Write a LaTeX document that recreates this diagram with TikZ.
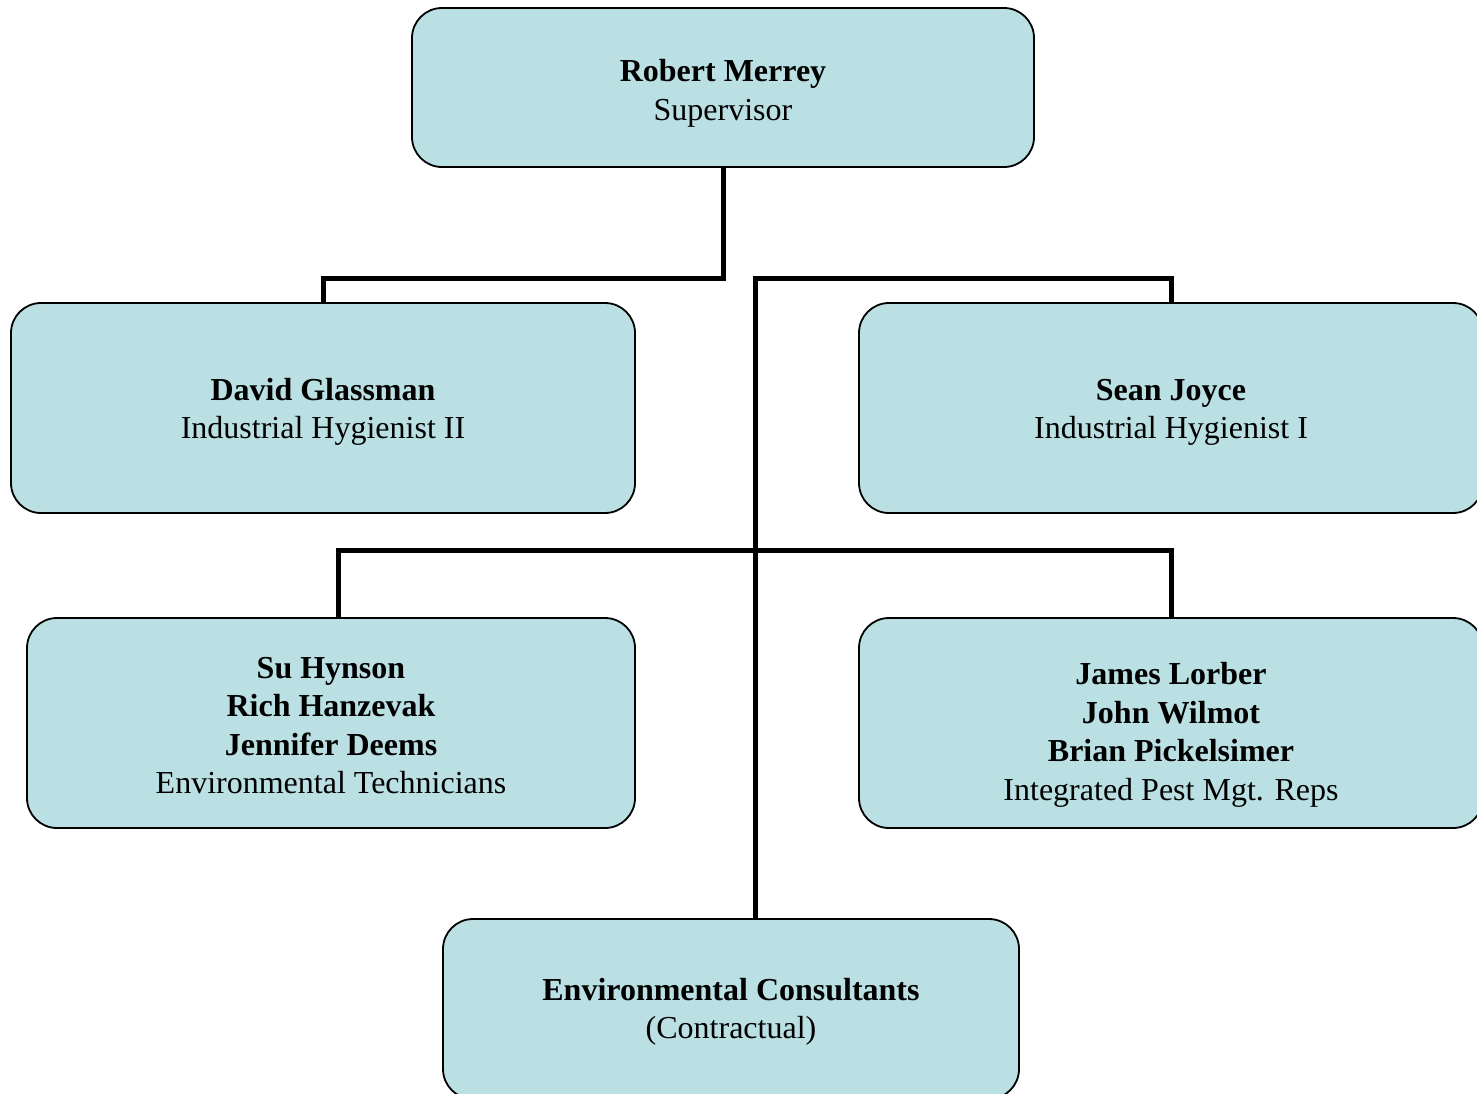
\documentclass[tikz,border=0pt]{standalone}
\usepackage{fontspec}
\setmainfont{Liberation Serif}
\definecolor{boxfill}{RGB}{186,224,227}
% invisible strut that makes the first line taller, pushing the text block down
\newcommand\firstline[1]{\rule{0pt}{#1}}
\begin{document}
\begin{tikzpicture}[x=1pt,y=-1pt,
  orgbox/.style={draw=black, line width=1.8pt, fill=boxfill, rounded corners=30pt,
    inner sep=0pt, align=center, font=\fontsize{32}{38.5}\selectfont},
  link/.style={draw=black, line width=5pt}]
\useasboundingbox (0,0) rectangle (1477,1093);
\clip (0,0) rectangle (1477,1093);

% boxes
\node[orgbox, minimum width=622pt, minimum height=159pt] (sup) at (723,87.5)
  {\firstline{34pt}\textbf{Robert Merrey}\\Supervisor};
\node[orgbox, minimum width=624pt, minimum height=210pt] (glass) at (323,408)
  {\firstline{30pt}\textbf{David Glassman}\\Industrial Hygienist II};
\node[orgbox, minimum width=624pt, minimum height=210pt] (joyce) at (1171,408)
  {\firstline{30pt}\textbf{Sean Joyce}\\Industrial Hygienist I};
\node[orgbox, minimum width=608pt, minimum height=210pt] (techs) at (331,723)
  {\firstline{26pt}\textbf{Su Hynson}\\\textbf{Rich Hanzevak}\\\textbf{Jennifer Deems}\\Environmental Technicians};
\node[orgbox, minimum width=624pt, minimum height=210pt] (ipm) at (1171,723)
  {\firstline{46pt}\textbf{James Lorber}\\\textbf{John Wilmot}\\\textbf{Brian Pickelsimer}\\Integrated Pest Mgt. Reps};
\node[orgbox, minimum width=576pt, minimum height=180pt] (cons) at (731,1009)
  {\firstline{28pt}\textbf{Environmental Consultants}\\(Contractual)};

% connector levels
\coordinate (busA) at (0,278);
\coordinate (busB) at (0,550);
\coordinate (trunk) at (755,278);

% connectors
\draw[link] (sup.south) -- (sup.south |- busA) -| (glass.north);
\draw[link] (joyce.north) |- (trunk) -- (trunk |- cons.north);
\draw[link] ([xshift=7pt]techs.north) |- (ipm.north |- busB) -- (ipm.north);
\end{tikzpicture}
\end{document}
